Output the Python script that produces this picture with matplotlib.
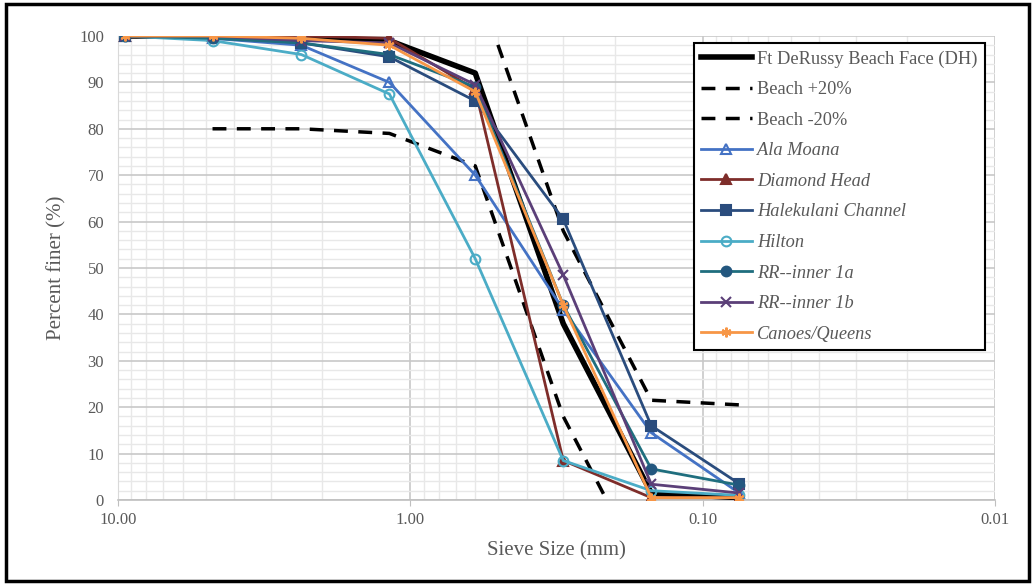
import matplotlib as mpl
mpl.use('Agg')
import matplotlib.pyplot as plt
from matplotlib.patches import Rectangle
from matplotlib.ticker import FixedLocator, LogLocator, MultipleLocator, NullFormatter
import numpy as np

plt.rcParams['font.family'] = ['Liberation Serif', 'DejaVu Serif']

# sieve openings (mm)
sieve_mm = [9.5, 4.75, 2.36, 1.18, 0.6, 0.3, 0.15, 0.075]

# percent finer for each site
ft_derussy = [100, 100, 99.5, 99, 92, 38, 1.5, 0.5]
beach_plus = [np.nan, np.nan, np.nan, np.nan, 112, 58, 21.5, 20.5]
beach_minus = [np.nan, 80, 80, 79, 72, 18, -18.5, np.nan]
ala_moana = [100, 99.5, 98, 90, 70, 41, 14.5, 1.5]
diamond_head = [100, 100, 100, 99.5, 88.5, 8.5, 0.5, 0.5]
halekulani = [100, 100, 98.5, 95.5, 86, 60.5, 16, 3.5]
hilton = [100, 99, 96, 87.5, 52, 8.5, 2, 1]
rr_inner_1a = [100, 99.5, 98.5, 96, 89, 42, 6.7, 3.2]
rr_inner_1b = [100, 100, 99, 98.5, 89.5, 48.5, 3.4, 1.5]
canoes_queens = [100, 100, 99.5, 98, 88, 42, 0.5, 0.5]

GRAY = '#595959'

fig = plt.figure(figsize=(10.35, 5.85), dpi=100)
ax = fig.add_axes([0.114, 0.1453, 0.8475, 0.7932])

ax.plot(sieve_mm, ft_derussy, color='black', lw=4, label='Ft DeRussy Beach Face (DH)', zorder=3)
ax.plot(sieve_mm, beach_plus, color='black', lw=2.5, ls=(0, (4, 3)), label='Beach +20%', zorder=3)
ax.plot(sieve_mm, beach_minus, color='black', lw=2.5, ls=(0, (4, 3)), label='Beach -20%', zorder=3)

sites = [
    (ala_moana, 'Ala Moana', '#4472C4', '^', 'none'),
    (diamond_head, 'Diamond Head', '#7E2D2A', '^', '#7E2D2A'),
    (halekulani, 'Halekulani Channel', '#2A4C7D', 's', '#2A4C7D'),
    (hilton, 'Hilton', '#4BACC6', 'o', 'none'),
    (rr_inner_1a, 'RR--inner 1a', '#1F6E7E', 'o', '#23577F'),
    (rr_inner_1b, 'RR--inner 1b', '#5B3F78', 'x', '#5B3F78'),
    (canoes_queens, 'Canoes/Queens', '#F79646', (6, 2, 0), '#F79646'),
]
for vals, name, col, mk, fc in sites:
    ax.plot(sieve_mm, vals, color=col, lw=2, marker=mk, ms=7, mfc=fc,
            mec=col if fc == 'none' else fc, mew=1.5, label=name, zorder=4)

ax.set_xscale('log')
ax.set_xlim(10, 0.01)
ax.set_ylim(0, 100)
ax.xaxis.set_major_locator(FixedLocator([10, 1, 0.1, 0.01]))
ax.set_xticklabels(['10.00', '1.00', '0.10', '0.01'])
ax.xaxis.set_minor_locator(LogLocator(base=10, subs=np.arange(2, 10)))
ax.xaxis.set_minor_formatter(NullFormatter())
ax.yaxis.set_major_locator(MultipleLocator(10))
ax.yaxis.set_minor_locator(MultipleLocator(2))

ax.grid(which='major', color='#C8C8C8', lw=1.2)
ax.grid(which='minor', color='#E8E8E8', lw=1)
ax.set_axisbelow(True)

for s in ['top', 'right']:
    ax.spines[s].set_visible(False)
ax.spines['left'].set_color('#D9D9D9')
ax.spines['bottom'].set_color('#BFBFBF')
ax.spines['bottom'].set_linewidth(1.2)
ax.tick_params(axis='y', which='both', length=0, labelsize=12, labelcolor=GRAY, pad=10)
ax.tick_params(axis='x', which='major', length=4, color='#BFBFBF', labelsize=12, labelcolor=GRAY, pad=4.5)
ax.tick_params(axis='x', which='minor', length=0)

ax.set_xlabel('Sieve Size (mm)', fontsize=15, color=GRAY, labelpad=9.5)
ax.set_ylabel('Percent finer (%)', fontsize=15, color=GRAY, labelpad=9)

leg = ax.legend(loc='upper right', bbox_to_anchor=(0.9886, 0.985), borderaxespad=0,
                fontsize=13.2, frameon=True, fancybox=False, edgecolor='black', framealpha=1,
                handlelength=2.78, labelspacing=0.74, borderpad=0.4, handletextpad=0.3)
leg.get_frame().set_linewidth(1.5)
for t in leg.get_texts():
    t.set_color(GRAY)
    if t.get_text() not in ('Ft DeRussy Beach Face (DH)', 'Beach +20%', 'Beach -20%'):
        t.set_fontstyle('italic')

fig.patches.append(Rectangle((0.006, 0.006), 0.988, 0.988, transform=fig.transFigure,
                             fill=False, edgecolor='black', lw=2.5))

fig.savefig('out.png', dpi=100)
